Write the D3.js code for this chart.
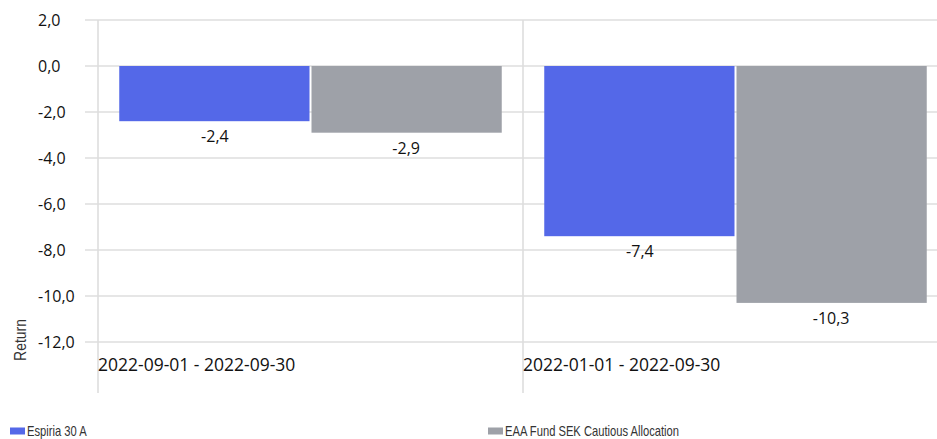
<!DOCTYPE html>
<html><head><meta charset="utf-8">
<script src="https://cdn.jsdelivr.net/npm/d3@7"></script>
<style>
body{margin:0;background:#fff;}
svg{display:block;}
.num{font-family:"Open Sans",sans-serif;fill:#111;}
.narrow{font-family:"Liberation Sans","Arial",sans-serif;fill:#333;}
</style></head><body>
<svg id="c" width="937" height="439"></svg>
<script>
const categories = ["2022-09-01 - 2022-09-30", "2022-01-01 - 2022-09-30"];
const seriesNames = ["Espiria 30 A", "EAA Fund SEK Cautious Allocation"];
const espiria = [-2.4, -7.4];
const eaa = [-2.9, -10.3];
const yTicks = [2, 0, -2, -4, -6, -8, -10, -12];
const colors = ["#5468e8", "#9ea1a8"];

const svg = d3.select("#c");
const y = d3.scaleLinear().domain([-12, 2]).range([342, 20]);
const x = d3.scaleBand().domain(categories).range([98, 948]).paddingInner(0).paddingOuter(0);
const pad = x.bandwidth() * 0.05;
const inner = d3.scaleBand().domain([0, 1]).range([pad, x.bandwidth() - pad]);
const fmt = v => d3.format(".1f")(v).replace(".", ",").replace("−", "-");

// horizontal grid
svg.append("g").selectAll("line").data(yTicks).join("line")
  .attr("x1", 85).attr("x2", 937)
  .attr("y1", d => y(d)).attr("y2", d => y(d))
  .attr("stroke", "#dedede").attr("stroke-width", 1.6);
// vertical category lines
svg.append("g").selectAll("line").data(categories).join("line")
  .attr("x1", d => x(d)).attr("x2", d => x(d))
  .attr("y1", 20).attr("y2", 393)
  .attr("stroke", "#dedede").attr("stroke-width", 1.6);

// y tick labels (left aligned)
svg.append("g").selectAll("text").data(yTicks).join("text")
  .attr("class", "num").attr("x", 38).attr("y", d => y(d)).attr("dy", "0.35em")
  .attr("text-anchor", "start").attr("font-size", 16).text(d => fmt(d));

// bars
const series = [espiria, eaa];
series.forEach((vals, si) => {
  const g = svg.append("g");
  g.selectAll("rect").data(vals).join("rect")
    .attr("x", (d, i) => x(categories[i]) + inner(si) + (si === 1 ? 1 : 0))
    .attr("width", inner.bandwidth() - 1)
    .attr("y", d => y(Math.max(0, d)))
    .attr("height", d => Math.abs(y(d) - y(0)))
    .attr("fill", colors[si]);
  g.selectAll("text").data(vals).join("text")
    .attr("class", "num")
    .attr("x", (d, i) => x(categories[i]) + inner(si) + inner.bandwidth() / 2)
    .attr("y", d => y(d) + 15.5).attr("dy", "0.35em")
    .attr("text-anchor", "middle").attr("font-size", 16).text(d => fmt(d));
});

// category labels
svg.append("g").selectAll("text").data(categories).join("text")
  .attr("class", "num").attr("x", d => x(d)).attr("y", 365).attr("dy", "0.35em")
  .attr("font-size", 17.5).text(d => d);

// y axis title (condensed look)
svg.append("text").attr("class", "narrow")
  .attr("transform", "translate(20,340) rotate(-90) scale(0.82,1)")
  .attr("text-anchor", "middle").attr("dy", "0.35em").attr("font-size", 17).text("Return");

// legend
const legX = [10, 488];
seriesNames.forEach((n, i) => {
  svg.append("rect").attr("x", legX[i]).attr("y", 427.5).attr("width", 15).attr("height", 7).attr("fill", colors[i]);
  svg.append("text").attr("class", "narrow")
    .attr("transform", `translate(${legX[i] + 17},431) scale(0.8,1)`)
    .attr("dy", "0.35em").attr("font-size", 14).text(n);
});
</script>
</body></html>
